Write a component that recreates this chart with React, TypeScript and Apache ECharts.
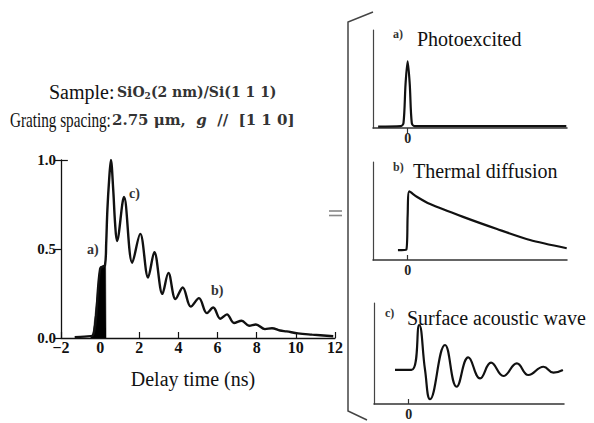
import React, { useEffect, useRef } from "react";
import * as echarts from "echarts";

// Main transient-grating signal (delay in ns, normalised signal)
const mainDelay = [-1.3, -0.8, -0.37, 0.0, 0.25, 0.31, 0.37, 0.46, 0.55, 0.67, 0.76, 0.86, 1.22, 1.64, 2.05, 2.45, 2.77, 3.18, 3.49, 3.85, 4.22, 4.63, 5.05, 5.45, 5.78, 6.14, 6.48, 6.84, 7.23, 7.61, 7.96, 8.42, 8.78, 9.19, 9.53, 10.11, 10.83, 11.91];
const mainSignal = [0.004, 0.008, 0.015, 0.39, 0.41, 0.535, 0.72, 0.89, 1.0, 0.83, 0.65, 0.545, 0.792, 0.423, 0.585, 0.34, 0.482, 0.248, 0.366, 0.219, 0.284, 0.176, 0.224, 0.14, 0.171, 0.108, 0.133, 0.084, 0.097, 0.069, 0.076, 0.05, 0.055, 0.042, 0.037, 0.026, 0.019, 0.01];

// Filled photo-excited part (a)
const pulseDelay = [-0.5, -0.37, 0.0, 0.28, 0.3, 0.301];
const pulseSignal = [0, 0.015, 0.4, 0.41, 0.41, 0];

// Panel a) Photoexcited
const aDelay = [-2.13, -0.5, -0.3, -0.15, 0.0, 0.15, 0.3, 0.5, 11.45];
const aSignal = [0.015, 0.02, 0.05, 0.45, 0.68, 0.45, 0.05, 0.02, 0.02];

// Panel b) Thermal diffusion
const bDelay = [-0.7, -0.1, 0.0, 0.12, 0.66, 1.62, 4.0, 6.45, 8.83, 11.48];
const bSignal = [0.1, 0.105, 0.45, 0.7, 0.646, 0.571, 0.44, 0.316, 0.204, 0.12];

// Panel c) Surface acoustic wave
const cDelay = [-0.985, 0.2, 0.76, 1.18, 1.54, 2.62, 3.46, 4.3, 5.15, 5.94, 6.83, 7.8, 8.63, 9.72, 10.44, 11.12];
const cSignal = [0.337, 0.337, 0.782, 0.337, 0.047, 0.584, 0.171, 0.462, 0.254, 0.409, 0.277, 0.403, 0.287, 0.369, 0.31, 0.337];

const mainXTicks = { min: -2, max: 12, interval: 2 };
const mainYTicks = { min: 0, max: 1, interval: 0.5 };
const panelZeroTick = [0];

const SERIF = "'Liberation Serif', 'Times New Roman', serif";
const DSERIF = "'DejaVu Serif', serif";

const zip = (xs: number[], ys: number[]) => xs.map((x, i) => [x, ys[i]]);

export default function App() {
  const ref = useRef<HTMLDivElement>(null);
  useEffect(() => {
    if (!ref.current) return;
    const chart = echarts.init(ref.current, null, { renderer: "svg" });

    const panelX = (gi: number, min: number, max: number, inside: boolean) => ({
      type: "value",
      gridIndex: gi,
      min,
      max,
      axisLine: { show: true, onZero: false, lineStyle: { color: "#333", width: 1.5 } },
      axisTick: { show: true, customValues: panelZeroTick, inside, length: 5, lineStyle: { color: "#333", width: 1.2 } },
      axisLabel: {
        show: true,
        customValues: panelZeroTick,
        fontFamily: SERIF,
        fontWeight: "bold",
        fontSize: 14,
        color: "#222",
        margin: 3,
      },
      splitLine: { show: false },
    });
    const panelY = (gi: number) => ({
      type: "value",
      gridIndex: gi,
      min: 0,
      max: 1,
      axisLine: { show: true, onZero: false, lineStyle: { color: "#444", width: 1.2 } },
      axisTick: { show: false },
      axisLabel: { show: false },
      splitLine: { show: false },
    });

    const txt = (x: number, y: number, text: string, fontSize: number, extra: any = {}, el: any = {}) => ({
      type: "text",
      x,
      y,
      ...el,
      style: {
        text,
        fontFamily: SERIF,
        fontSize,
        fill: "#111",
        align: "left",
        verticalAlign: "middle",
        ...extra,
      },
    });

    const option: any = {
      animation: false,
      backgroundColor: "#fff",
      grid: [
        { left: 61, top: 160, width: 274, height: 178 },
        { left: 373, top: 30, width: 194, height: 98 },
        { left: 373, top: 162, width: 194, height: 98 },
        { left: 374, top: 303, width: 190, height: 101 },
      ],
      xAxis: [
        {
          type: "value",
          gridIndex: 0,
          min: mainXTicks.min,
          max: mainXTicks.max,
          interval: mainXTicks.interval,
          axisLine: { show: true, onZero: false, lineStyle: { color: "#111", width: 1.3 } },
          axisTick: { show: true, inside: true, length: 6, lineStyle: { color: "#111", width: 1.2 } },
          axisLabel: {
            formatter: (v: number) => (v < 0 ? "\u2212" + Math.abs(v) : String(v)),
            fontFamily: SERIF,
            fontWeight: "bold",
            fontSize: 16,
            color: "#111",
            margin: 1,
          },
          splitLine: { show: false },
        },
        panelX(1, -2.5, 11.5, false),
        panelX(2, -2.5, 11.5, true),
        panelX(3, -2.5, 11.2, true),
      ],
      yAxis: [
        {
          type: "value",
          gridIndex: 0,
          min: mainYTicks.min,
          max: mainYTicks.max,
          interval: mainYTicks.interval,
          axisLine: { show: true, onZero: false, lineStyle: { color: "#111", width: 1.3 } },
          axisTick: { show: true, length: 6, lineStyle: { color: "#111", width: 1.2 } },
          axisLabel: {
            formatter: (v: number) => v.toFixed(1),
            fontFamily: SERIF,
            fontWeight: "bold",
            fontSize: 15,
            color: "#111",
            margin: 5,
          },
          splitLine: { show: false },
        },
        panelY(1),
        panelY(2),
        panelY(3),
      ],
      series: [
        {
          type: "line",
          xAxisIndex: 0,
          yAxisIndex: 0,
          data: zip(pulseDelay, pulseSignal),
          symbol: "none",
          lineStyle: { color: "#000", width: 0.5 },
          areaStyle: { color: "#000", opacity: 1 },
          silent: true,
        },
        {
          type: "line",
          xAxisIndex: 0,
          yAxisIndex: 0,
          data: zip(mainDelay, mainSignal),
          symbol: "none",
          smooth: 0.35,
          lineStyle: { color: "#111", width: 2.4 },
          markLine: {
            silent: true,
            symbol: "none",
            label: { show: false },
            lineStyle: { color: "#111", width: 1.2, type: "solid" },
            data: [[{ coord: [-2, 1] }, { coord: [-1.65, 1] }]],
          },
        },
        {
          type: "line",
          xAxisIndex: 1,
          yAxisIndex: 1,
          data: zip(aDelay, aSignal),
          symbol: "none",
          smooth: 0.3,
          lineStyle: { color: "#111", width: 2.2 },
        },
        {
          type: "line",
          xAxisIndex: 2,
          yAxisIndex: 2,
          data: zip(bDelay, bSignal),
          symbol: "none",
          smooth: 0.25,
          lineStyle: { color: "#111", width: 2.2 },
        },
        {
          type: "line",
          xAxisIndex: 3,
          yAxisIndex: 3,
          data: zip(cDelay, cSignal),
          symbol: "none",
          smooth: 0.45,
          lineStyle: { color: "#111", width: 2.2 },
        },
      ],
      graphic: [
        // header lines
        txt(49, 92, "Sample:", 20),
        {
          type: "text",
          x: 117,
          y: 92,
          style: {
            text: "{b|SiO}{s|2}{b|(2 nm)/Si(1 1 1)}",
            verticalAlign: "middle",
            align: "left",
            rich: {
              b: { fontFamily: DSERIF, fontWeight: "bold", fontSize: 14, fill: "#333", lineHeight: 16 },
              s: { fontFamily: DSERIF, fontWeight: "bold", fontSize: 9, fill: "#333", lineHeight: 16, verticalAlign: "bottom" },
            },
          },
        },
        txt(10, 120, "Grating spacing:", 20, {}, { scaleX: 0.76 }),
        {
          type: "text",
          x: 112,
          y: 120,
          style: {
            text: "{b|2.75 \u03bcm,  }{i|g}{b|  //  [1 1 0]}",
            verticalAlign: "middle",
            align: "left",
            rich: {
              b: { fontFamily: DSERIF, fontWeight: "bold", fontSize: 15, fill: "#333", lineHeight: 16 },
              i: { fontFamily: DSERIF, fontWeight: "bold", fontStyle: "italic", fontSize: 15, fill: "#333", lineHeight: 16 },
            },
          },
        },
        // main chart annotations
        txt(87, 249, "a)", 14, { fontWeight: "bold", fill: "#333" }),
        txt(129, 193, "c)", 14, { fontWeight: "bold", fill: "#333" }),
        txt(211, 290, "b)", 14, { fontWeight: "bold", fill: "#333" }),
        txt(193, 379, "Delay time (ns)", 20, { align: "center" }),
        // equals sign
        { type: "line", shape: { x1: 329, y1: 211, x2: 342, y2: 211 }, style: { stroke: "#888", lineWidth: 1.6 } },
        { type: "line", shape: { x1: 329, y1: 215.5, x2: 342, y2: 215.5 }, style: { stroke: "#888", lineWidth: 1.6 } },
        // bracket
        {
          type: "polyline",
          shape: { points: [[373, 12], [348, 22], [348, 411], [367, 420]] },
          style: { stroke: "#444", lineWidth: 1.5, fill: null },
        },
        // panel labels
        txt(393, 34, "a)", 12, { fontWeight: "bold", fill: "#333" }),
        txt(417, 39, "Photoexcited", 20),
        txt(393, 167, "b)", 12, { fontWeight: "bold", fill: "#333" }),
        txt(413, 171, "Thermal diffusion", 20),
        txt(385, 313, "c)", 12, { fontWeight: "bold", fill: "#333" }),
        txt(407, 318, "Surface acoustic wave", 20),
      ],
    };

    chart.setOption(option);
    return () => chart.dispose();
  }, []);

  return (
    <div
      ref={ref}
      style={{ position: "fixed", left: 0, top: 0, width: 594, height: 423, background: "#fff" }}
    />
  );
}
